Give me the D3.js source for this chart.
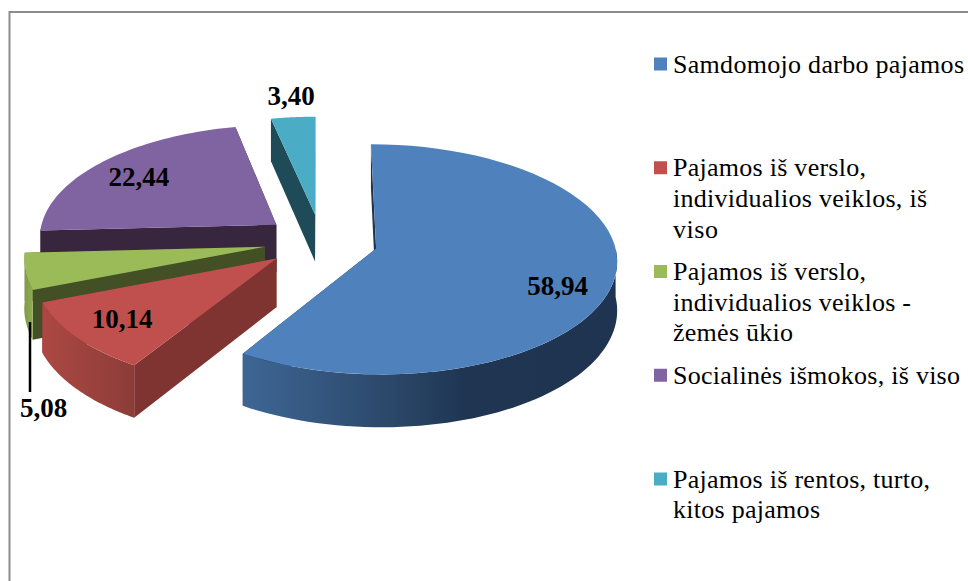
<!DOCTYPE html>
<html>
<head>
<meta charset="utf-8">
<script src="https://cdn.jsdelivr.net/npm/d3@7"></script>
<style>
  html, body { margin: 0; padding: 0; background: #fff; }
  text { font-family: "Liberation Serif", serif; fill: #000; }
</style>
</head>
<body>
<div id="chart"></div>
<script>
// chart data
const categories = [
    ["Samdomojo darbo pajamos"],
    ["Pajamos iš verslo,", "individualios veiklos, iš", "viso"],
    ["Pajamos iš verslo,", "individualios veiklos -", "žemės ūkio"],
    ["Socialinės išmokos, iš viso"],
    ["Pajamos iš rentos, turto,", "kitos pajamos"]
];
const values = [58.94, 10.14, 5.08, 22.44, 3.40];
const valueLabels = ["58,94", "10,14", "5,08", "22,44", "3,40"];

// colours per slice
const topColors = ["#4F81BD", "#C0504D", "#9BBB59", "#8064A2", "#4BACC6"];
const wallColors = ["#1F3552", "#803431", "#434F24", "#38263F", "#1F4A57"];
const rimStops = [
    [[0, "#3E6695"], [0.4, "#2B4769"], [0.6, "#1F3552"], [1, "#1E3450"]],
    [[0, "#AC4843"], [1, "#8C3C38"]],
    [[0, "#7F9A49"], [1, "#8FAD52"]],
    [[0, "#38263F"], [1, "#38263F"]],
    [[0, "#1F4A57"], [1, "#1F4A57"]]
];

// label placement: share of the radius from the slice tip, then a nudge in px
const labelFrac = [0.76, 0.82, 1, 0.7, 1];
const labelNudge = [[2, 13], [8, -4], [18, 137], [-14, -3], [-2, -21]];

const legendWidths = [[291], [193, 254, 45], [193, 238, 120], [287], [257, 147]];

const width = 968, height = 581;

// pie plane seen in perspective
const cx = 321, cy = 241;
const radius = 238, explode = 57, tilt = 0.4776, persp = 0.0945, depth = 48;

const svg = d3.select("#chart").append("svg")
    .attr("width", width)
    .attr("height", height)
    .style("display", "block");

// frame, the right and bottom sides fall off the picture
svg.append("path")
    .attr("d", d3.line()([[9.5, height], [9.5, 12], [width, 12]]))
    .attr("fill", "none")
    .attr("stroke", "#8C8C8C")
    .attr("stroke-width", 2);

const defs = svg.append("defs");
rimStops.forEach((stops, i) => {
    defs.append("linearGradient")
        .attr("id", "rim" + i)
        .selectAll("stop")
        .data(stops)
        .join("stop")
        .attr("offset", d => d[0])
        .attr("stop-color", d => d[1]);
});

const project = (x, z, h) => {
    const f = 1 + persp * z / radius;
    return [cx + x * f, cy + z * tilt * f + h * f];
};

const arcs = d3.pie().sort(null)(values);

arcs.forEach(d => {
    const mid = (d.startAngle + d.endAngle) / 2;
    d.tipX = explode * Math.sin(mid);
    d.tipZ = -explode * Math.cos(mid);
    d.mid = mid;
});

const onSlice = (d, a, r, h) =>
    project(d.tipX + r * Math.sin(a), d.tipZ - r * Math.cos(a), h);

const arcPoints = (d, a0, a1, h) =>
    d3.range(0, 61).map(i => onSlice(d, a0 + (a1 - a0) * i / 60, radius, h));

const line = d3.line();

// painted back to front: rentos, socialines, zemes ukis, verslas, samdomas darbas
const order = [4, 3, 2, 1, 0];

order.forEach(i => {
    const d = arcs[i];
    const g = svg.append("g");

    // the two cut faces
    [d.startAngle, d.endAngle].forEach(a => {
        const wall = [
            onSlice(d, a, 0, 0), onSlice(d, a, radius, 0),
            onSlice(d, a, radius, depth), onSlice(d, a, 0, depth)
        ];
        g.append("path")
            .attr("d", line(wall) + "Z")
            .attr("fill", wallColors[i]);
    });

    // outer rim, only the part that looks at the viewer
    const r0 = Math.max(d.startAngle, Math.PI / 2);
    const r1 = Math.min(d.endAngle, 1.5 * Math.PI);
    if (r1 > r0) {
        const rim = arcPoints(d, r0, r1, 0).concat(arcPoints(d, r1, r0, depth));
        g.append("path")
            .attr("d", line(rim) + "Z")
            .attr("fill", `url(#rim${i})`);
    }

    // top face
    const top = [onSlice(d, 0, 0, 0)].concat(arcPoints(d, d.startAngle, d.endAngle, 0));
    g.append("path")
        .attr("d", line(top) + "Z")
        .attr("fill", topColors[i]);
});

// value labels
svg.append("g")
    .selectAll("text")
    .data(arcs)
    .join("text")
    .attr("text-anchor", "middle")
    .attr("font-size", 27)
    .attr("font-weight", "bold")
    .attr("x", (d, i) => onSlice(d, d.mid, radius * labelFrac[i], 0)[0] + labelNudge[i][0])
    .attr("y", (d, i) => onSlice(d, d.mid, radius * labelFrac[i], 0)[1] + labelNudge[i][1] + 9)
    .text((d, i) => valueLabels[i]);

// leader of the smallest label
svg.append("line")
    .attr("x1", 30).attr("x2", 30)
    .attr("y1", 322).attr("y2", 392)
    .attr("stroke", "#000")
    .attr("stroke-width", 2.5);

// legend
const legendY = d3.scalePoint()
    .domain(d3.range(categories.length))
    .range([64, 479]);

const legend = svg.append("g")
    .selectAll("g")
    .data(categories)
    .join("g")
    .attr("transform", (d, i) => `translate(654,${legendY(i)})`);

legend.append("rect")
    .attr("y", -6.5)
    .attr("width", 13)
    .attr("height", 13)
    .attr("fill", (d, i) => topColors[i]);

legend.each(function(lines, i) {
    d3.select(this).selectAll("text")
        .data(lines)
        .join("text")
        .attr("x", 19)
        .attr("y", (d, j) => 8.5 + j * 30.7)
        .attr("font-size", 26)
        .attr("textLength", (d, j) => legendWidths[i][j])
        .text(d => d);
});
</script>
</body>
</html>
